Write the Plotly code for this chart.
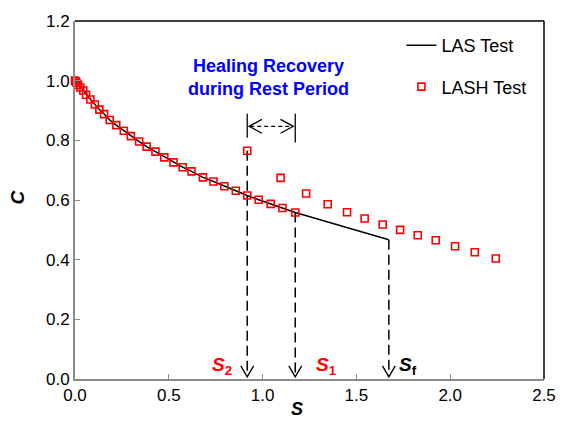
import plotly.graph_objects as go

# LASH test: damage parameter S and pseudo-stiffness C before the rest period
lash_s_before = [0.000, 0.004, 0.008, 0.016, 0.028, 0.044, 0.059, 0.082, 0.106, 0.130,
                 0.155, 0.185, 0.220, 0.260, 0.298, 0.342, 0.382, 0.429, 0.476, 0.525,
                 0.574, 0.621, 0.682, 0.738, 0.796, 0.857, 0.918, 0.979, 1.043, 1.106, 1.174]
lash_c_before = [1.000, 0.997, 0.993, 0.986, 0.977, 0.967, 0.953, 0.937, 0.920, 0.903,
                 0.888, 0.868, 0.851, 0.832, 0.814, 0.796, 0.779, 0.762, 0.743, 0.726,
                 0.710, 0.696, 0.676, 0.662, 0.646, 0.631, 0.615, 0.601, 0.587, 0.573, 0.558]

# LASH test after the rest period (healed)
lash_s_after = [0.918, 1.096, 1.232, 1.347, 1.450, 1.544, 1.640, 1.733, 1.827, 1.923,
                2.026, 2.131, 2.243]
lash_c_after = [0.765, 0.674, 0.622, 0.586, 0.559, 0.538, 0.518, 0.500, 0.482, 0.465,
                0.445, 0.425, 0.404]

# LAS test continues from S1 to failure
s_fail = 1.673
c_fail = 0.467
las_s = lash_s_before + [s_fail]
las_c = lash_c_before + [c_fail]

s1 = lash_s_before[-1]
c1 = lash_c_before[-1]
s2 = lash_s_after[0]
c2 = lash_c_after[0]

x_range = [0, 2.5]
y_range = [0, 1.2]
x_ticks = [0.0, 0.5, 1.0, 1.5, 2.0, 2.5]
y_ticks = [0.0, 0.2, 0.4, 0.6, 0.8, 1.0, 1.2]

W, H = 568, 422
M_L, M_R, M_T, M_B = 75, 16, 20, 43
plot_w = W - M_L - M_R
plot_h = H - M_T - M_B
px_x = (x_range[1] - x_range[0]) / plot_w
px_y = (y_range[1] - y_range[0]) / plot_h

FONT = "Arial, 'Liberation Sans', sans-serif"

fig = go.Figure()

fig.add_trace(go.Scatter(
    x=las_s, y=las_c, mode="lines", name="LAS Test",
    line=dict(color="black", width=1.5),
    legendgroup="a",
))
fig.add_trace(go.Scatter(
    x=lash_s_before + lash_s_after, y=lash_c_before + lash_c_after,
    mode="markers", name="LASH Test",
    marker=dict(symbol="square-open", size=7, color="#ff0000",
                line=dict(width=1.6, color="#ff0000")),
    cliponaxis=False, legendgroup="b",
))

shapes = []
dash_style = dict(color="black", width=1.5, dash="10px,5px")
tip_y = 0.007
head_w = 6.5 * px_x
head_h = 11 * px_y

# vertical dashed guides with open arrowheads down to the S axis
for s_val, c_top in [(s2, c2), (s1, c1), (s_fail, c_fail)]:
    shapes.append(dict(type="line", x0=s_val, x1=s_val, y0=c_top, y1=tip_y + 1 * px_y,
                       line=dash_style, layer="below"))
    shapes.append(dict(
        type="path",
        path=f"M {s_val - head_w},{tip_y + head_h} L {s_val},{tip_y} L {s_val + head_w},{tip_y + head_h}",
        line=dict(color="black", width=1.3),
    ))

# healing bracket between S2 and S1
bar_top = 0.889
shapes.append(dict(type="line", x0=s2, x1=s2, y0=bar_top, y1=0.809,
                   line=dict(color="black", width=1.3)))
shapes.append(dict(type="line", x0=s1, x1=s1, y0=bar_top, y1=0.793,
                   line=dict(color="black", width=1.3)))
arr_y = 0.847
shapes.append(dict(type="line", x0=s2 + 3 * px_x, x1=s1 - 3 * px_x, y0=arr_y, y1=arr_y,
                   line=dict(color="black", width=1.3, dash="4px,3px")))
cw, ch = 13 * px_x, 7 * px_y
shapes.append(dict(
    type="path",
    path=f"M {s2 + 2 * px_x + cw},{arr_y + ch} L {s2 + 2 * px_x},{arr_y} L {s2 + 2 * px_x + cw},{arr_y - ch}",
    line=dict(color="black", width=1.3),
))
shapes.append(dict(
    type="path",
    path=f"M {s1 - 2 * px_x - cw},{arr_y + ch} L {s1 - 2 * px_x},{arr_y} L {s1 - 2 * px_x - cw},{arr_y - ch}",
    line=dict(color="black", width=1.3),
))

# black frame on top and right
shapes.append(dict(type="line", xref="paper", yref="paper", x0=0, x1=1, y0=1, y1=1,
                   line=dict(color="black", width=1.5)))
shapes.append(dict(type="line", xref="paper", yref="paper", x0=1, x1=1, y0=0, y1=1,
                   line=dict(color="black", width=1.5)))

for sh in shapes:
    sh.setdefault("xref", "x")
    sh.setdefault("yref", "y")

annotations = [
    dict(text="<b>Healing Recovery<br>during Rest Period</b>", x=1.03, y=1.011,
         xref="x", yref="y", showarrow=False, align="center",
         xanchor="center", yanchor="middle",
         font=dict(family=FONT, size=18, color="#0000ff")),
    dict(text="<b><i>S</i><sub>2</sub></b>", x=0.845, y=0.045, xref="x", yref="y",
         xanchor="right", yanchor="middle", showarrow=False,
         font=dict(family=FONT, size=19, color="#ff0000")),
    dict(text="<b><i>S</i><sub>1</sub></b>", x=1.272, y=0.045, xref="x", yref="y",
         xanchor="left", yanchor="middle", showarrow=False,
         font=dict(family=FONT, size=19, color="#ff0000")),
    dict(text="<b><i>S</i><sub>f</sub></b>", x=1.714, y=0.045, xref="x", yref="y",
         xanchor="left", yanchor="middle", showarrow=False,
         font=dict(family=FONT, size=19, color="black")),
    dict(text="<b><i>S</i></b>", x=(301 - M_L) / plot_w, y=-(409 - M_T - plot_h) / plot_h,
         xref="paper", yref="paper", showarrow=False,
         xanchor="center", yanchor="middle",
         font=dict(family=FONT, size=18, color="black")),
    dict(text="<b><i>C</i></b>", x=-(M_L - 17) / plot_w, y=(M_T + plot_h - 197) / plot_h,
         xref="paper", yref="paper", showarrow=False, textangle=-90,
         xanchor="center", yanchor="middle",
         font=dict(family=FONT, size=19, color="black")),
]

axis_common = dict(
    showline=True, linecolor="#8c8c8c", linewidth=2,
    ticks="inside", ticklen=5, tickcolor="#8c8c8c", tickwidth=1.3,
    showgrid=False, zeroline=False, tickformat=".1f",
    tickfont=dict(family=FONT, size=17, color="black"),
)

fig.update_layout(
    width=W, height=H, autosize=False,
    margin=dict(l=M_L, r=M_R, t=M_T, b=M_B, pad=0),
    paper_bgcolor="white", plot_bgcolor="white",
    font=dict(family=FONT, size=18, color="black"),
    xaxis=dict(range=x_range, tickvals=x_ticks, **axis_common),
    yaxis=dict(range=y_range, tickvals=y_ticks, **axis_common),
    shapes=shapes,
    annotations=annotations,
    showlegend=True,
    legend=dict(x=(407 - M_L) / plot_w, y=(H - M_B - 26) / plot_h, xanchor="left", yanchor="top",
                bgcolor="rgba(0,0,0,0)", traceorder="grouped", tracegroupgap=15,
                font=dict(family=FONT, size=18, color="black")),
)

fig.write_html("out.html")
